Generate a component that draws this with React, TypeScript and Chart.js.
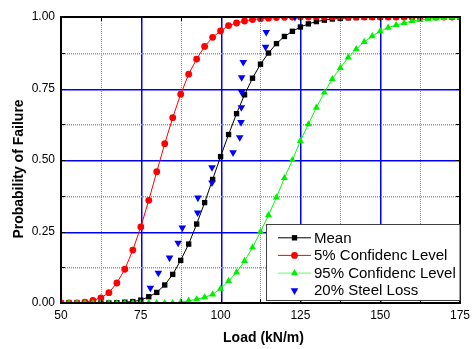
import { useEffect, useRef } from "react";
import { Chart, registerables } from "chart.js";

Chart.register(...registerables);

const FONT = "'Liberation Sans', Arial, sans-serif";

const loads = [
  50, 52.5, 55, 57.5, 60, 62.5, 65, 67.5, 70, 72.5, 75, 77.5, 80, 82.5, 85, 87.5, 90, 92.5, 95, 97.5,
  100, 102.5, 105, 107.5, 110, 112.5, 115, 117.5, 120, 122.5, 125, 127.5, 130, 132.5, 135, 137.5, 140,
  142.5, 145, 147.5, 150, 152.5, 155, 157.5, 160, 162.5, 165, 167.5, 170, 172.5, 175,
];

const meanProb = [
  0, 0, 0, 0, 0, 0, 0, 0.001, 0.003, 0.005, 0.01, 0.022, 0.037, 0.063, 0.1, 0.149, 0.206, 0.276, 0.351, 0.432,
  0.512, 0.589, 0.662, 0.728, 0.786, 0.835, 0.874, 0.907, 0.932, 0.95, 0.965, 0.976, 0.984, 0.989, 0.993, 0.995, 0.997,
  0.998, 0.999, 0.999, 1, 1, 1, 1, 1, 1, 1, 1, 1, 1, 1,
];

const conf5Prob = [
  0, 0, 0, 0.003, 0.009, 0.018, 0.036, 0.07, 0.118, 0.185, 0.266, 0.359, 0.459, 0.557, 0.648, 0.73, 0.8, 0.853, 0.897, 0.929,
  0.951, 0.97, 0.979, 0.986, 0.991, 0.994, 0.996, 0.998, 0.999, 1, 1, 1, 1, 1, 1, 1, 1,
  1, 1, 1, 1, 1, 1, 1, 1, 1, 1, 1, 1, 1, 1,
];

const conf95Prob = [
  0, 0, 0, 0, 0, 0, 0, 0, 0, 0, 0, 0, 0, 0, 0, 0.003, 0.008, 0.013, 0.02, 0.03,
  0.05, 0.077, 0.107, 0.147, 0.194, 0.249, 0.307, 0.369, 0.437, 0.5, 0.567, 0.625, 0.683, 0.736, 0.783, 0.822, 0.859,
  0.888, 0.913, 0.933, 0.95, 0.963, 0.972, 0.979, 0.986, 0.99, 0.993, 0.995, 0.997, 0.998, 0.999,
];

const steelLossLoad = [78, 80.5, 84, 86.7, 88, 92.8, 92.9, 97.3, 97.3, 103.9, 106, 106.4, 106.5, 106.6, 106.6, 107.1, 114.1, 114.3, 123.3];
const steelLossProb = [0.053, 0.105, 0.158, 0.21, 0.263, 0.316, 0.368, 0.421, 0.474, 0.526, 0.579, 0.632, 0.684, 0.737, 0.789, 0.842, 0.895, 0.947, 1.0];

const xTickLabels = ["50", "75", "100", "125", "150", "175"];
const yTickLabels = ["0.00", "0.25", "0.50", "0.75", "1.00"];
const xTitle = "Load (kN/m)";
const yTitle = "Probability of Failure";

const seriesNames = ["Mean", "5% Confidenc Level", "95% Confidenc Level", "20% Steel Loss"];

const isMultiple = (v: number, step: number) => Math.abs(v / step - Math.round(v / step)) < 1e-6;

function drawMarker(ctx: CanvasRenderingContext2D, style: string, r: number, rot: number, x: number, y: number, color: string) {
  ctx.save();
  ctx.fillStyle = color;
  ctx.beginPath();
  if (style === "circle") {
    ctx.arc(x, y, r, 0, Math.PI * 2);
  } else if (style === "rect") {
    const s = r * Math.SQRT1_2;
    ctx.rect(x - s, y - s, 2 * s, 2 * s);
  } else if (style === "triangle") {
    let a = (rot * Math.PI) / 180;
    ctx.moveTo(x + Math.sin(a) * r, y - Math.cos(a) * r);
    a += (2 * Math.PI) / 3;
    ctx.lineTo(x + Math.sin(a) * r, y - Math.cos(a) * r);
    a += (2 * Math.PI) / 3;
    ctx.lineTo(x + Math.sin(a) * r, y - Math.cos(a) * r);
    ctx.closePath();
  }
  ctx.fill();
  ctx.restore();
}

const framePlugin = {
  id: "frame",
  beforeDatasetsDraw(chart: any) {
    const { ctx, chartArea: a, scales } = chart;
    ctx.save();
    const top = Math.round(a.top);
    const bottom = Math.round(a.bottom);
    const left = Math.round(a.left);
    const right = Math.round(a.right);
    // vertical grid lines
    for (let v = 62.5; v < 175 - 1e-9; v += 12.5) {
      const px = Math.round(scales.x.getPixelForValue(v));
      if (isMultiple(v, 25)) {
        ctx.fillStyle = "#0000ff";
        ctx.fillRect(px, top, 1.5, bottom - top);
      } else {
        ctx.fillStyle = "#00ff00";
        for (let y = top; y < bottom; y += 2) ctx.fillRect(px, y, 1, 1);
      }
    }
    // horizontal grid lines
    for (let v = 0.125; v < 1 - 1e-9; v += 0.125) {
      const py = Math.round(scales.y.getPixelForValue(v));
      if (isMultiple(v, 0.25)) {
        ctx.fillStyle = "#0000ff";
        ctx.fillRect(left, py, right - left, 1.5);
      } else {
        ctx.fillStyle = "#00ff00";
        for (let x = left; x < right; x += 2) ctx.fillRect(x, py, 1, 1.5);
      }
    }
    ctx.restore();
  },
  afterDatasetsDraw(chart: any) {
    const { ctx, chartArea: a, scales } = chart;
    ctx.save();
    ctx.strokeStyle = "#000";
    ctx.lineWidth = 1;
    ctx.beginPath();
    for (let v = 50; v <= 175 + 1e-9; v += 12.5) {
      const px = Math.round(scales.x.getPixelForValue(v)) + 0.5;
      ctx.moveTo(px, a.bottom);
      ctx.lineTo(px, a.bottom - 4);
      ctx.moveTo(px, a.top);
      ctx.lineTo(px, a.top + 4);
    }
    for (let v = 0; v <= 1 + 1e-9; v += 0.125) {
      const py = Math.round(scales.y.getPixelForValue(v)) + 0.5;
      ctx.moveTo(a.left, py);
      ctx.lineTo(a.left + 4, py);
      ctx.moveTo(a.right, py);
      ctx.lineTo(a.right - 4, py);
    }
    ctx.stroke();
    ctx.lineWidth = 2;
    ctx.strokeRect(a.left, a.top, a.right - a.left, a.bottom - a.top);
    ctx.restore();
  },
  afterDraw(chart: any) {
    const { ctx, chartArea: a } = chart;
    ctx.save();
    ctx.fillStyle = "#000";
    ctx.font = `bold 14px ${FONT}`;
    ctx.textAlign = "center";
    ctx.textBaseline = "alphabetic";
    ctx.fillText(xTitle, (a.left + a.right) / 2 + 3, 341.5);
    ctx.translate(22.5, (a.top + a.bottom) / 2 + 9);
    ctx.rotate(-Math.PI / 2);
    ctx.fillText(yTitle, 0, 0);
    ctx.restore();

    ctx.save();
    const x0 = 266.5;
    const y0 = 224.5;
    const x1 = a.right;
    const y1 = a.bottom - 2.5;
    ctx.fillStyle = "#fff";
    ctx.fillRect(x0, y0, x1 - x0, y1 - y0);
    ctx.strokeStyle = "#404040";
    ctx.lineWidth = 1;
    ctx.strokeRect(x0, y0, x1 - x0, y1 - y0);
    const rows = [237.3, 254.9, 272.6, 290];
    const items = chart.data.datasets.slice().sort((p: any, q: any) => p.legendIndex - q.legendIndex);
    items.forEach((ds: any, i: number) => {
      const cy = rows[i];
      if (ds.showLine) {
        ctx.strokeStyle = ds.legendLineColor || ds.borderColor;
        ctx.lineWidth = 1;
        ctx.beginPath();
        ctx.moveTo(278, cy + 0.5);
        ctx.lineTo(311, cy + 0.5);
        ctx.stroke();
      }
      drawMarker(ctx, ds.pointStyle, ds.pointRadius, ds.pointRotation || 0, 294.5, cy + 0.5, ds.pointBackgroundColor);
      ctx.fillStyle = "#000";
      ctx.font = `15px ${FONT}`;
      ctx.textAlign = "left";
      ctx.textBaseline = "alphabetic";
      ctx.fillText(ds.label, 314, cy + 5.2);
    });
    ctx.restore();
  },
};

export default function App() {
  const ref = useRef<HTMLCanvasElement | null>(null);

  useEffect(() => {
    if (!ref.current) return;
    const pts = (xs: number[], ys: number[]) => xs.map((x, i) => ({ x, y: ys[i] }));
    const chart = new Chart(ref.current, {
      type: "scatter",
      data: {
        datasets: [
          {
            label: seriesNames[0],
            legendIndex: 0,
            data: pts(loads, meanProb),
            showLine: true,
            borderColor: "#000000",
            borderWidth: 1,
            pointStyle: "rect",
            pointRadius: 3.8,
            pointBackgroundColor: "#000000",
            pointBorderWidth: 0,
            order: 4,
          },
          {
            label: seriesNames[1],
            legendIndex: 1,
            data: pts(loads, conf5Prob),
            showLine: true,
            borderColor: "#ff0000",
            borderWidth: 1,
            pointStyle: "circle",
            pointRadius: 3.4,
            pointBackgroundColor: "#ff0000",
            pointBorderWidth: 0,
            order: 3,
          },
          {
            label: seriesNames[2],
            legendIndex: 2,
            data: pts(loads, conf95Prob),
            showLine: true,
            borderColor: "#00ff00",
            legendLineColor: "#66ff66",
            borderWidth: 1,
            pointStyle: "triangle",
            pointRadius: 4.1,
            pointBackgroundColor: "#00ee00",
            pointBorderWidth: 0,
            order: 2,
          },
          {
            label: seriesNames[3],
            legendIndex: 3,
            data: pts(steelLossLoad, steelLossProb),
            showLine: false,
            borderColor: "#0000ff",
            pointStyle: "triangle",
            pointRotation: 180,
            pointRadius: 4.4,
            pointBackgroundColor: "#0000ff",
            pointBorderWidth: 0,
            order: 1,
          },
        ] as any,
      },
      options: {
        animation: false,
        responsive: false,
        layout: { padding: { left: 0, top: 17, right: 13, bottom: 0 } },
        plugins: { legend: { display: false }, tooltip: { enabled: false } },
        scales: {
          x: {
            type: "linear",
            min: 50,
            max: 175,
            afterFit: (s: any) => {
              s.height = 46;
            },
            afterBuildTicks: (s: any) => {
              const t = [];
              for (let v = 50; v <= 175 + 1e-9; v += 12.5) t.push({ value: v });
              s.ticks = t;
            },
            ticks: {
              autoSkip: false,
              maxRotation: 0,
              padding: 5,
              color: "#000",
              font: { family: FONT, size: 12 },
              callback: (v: any) => (isMultiple(Number(v), 25) ? xTickLabels[Math.round((Number(v) - 50) / 25)] : ""),
            },
            grid: { display: false, drawTicks: false },
            border: { display: false },
          },
          y: {
            type: "linear",
            min: 0,
            max: 1,
            afterFit: (s: any) => {
              s.width = 61;
            },
            afterBuildTicks: (s: any) => {
              const t = [];
              for (let v = 0; v <= 1 + 1e-9; v += 0.125) t.push({ value: v });
              s.ticks = t;
            },
            ticks: {
              autoSkip: false,
              padding: 6,
              color: "#000",
              font: { family: FONT, size: 12 },
              callback: (v: any) => (isMultiple(Number(v), 0.25) ? yTickLabels[Math.round(Number(v) / 0.25)] : ""),
            },
            grid: { display: false, drawTicks: false },
            border: { display: false },
          },
        },
      } as any,
      plugins: [framePlugin],
    });
    return () => chart.destroy();
  }, []);

  return (
    <div style={{ position: "fixed", left: 0, top: 0, width: 475, height: 349, background: "#fff" }}>
      <canvas ref={ref} width={475} height={349} style={{ display: "block" }} />
    </div>
  );
}
